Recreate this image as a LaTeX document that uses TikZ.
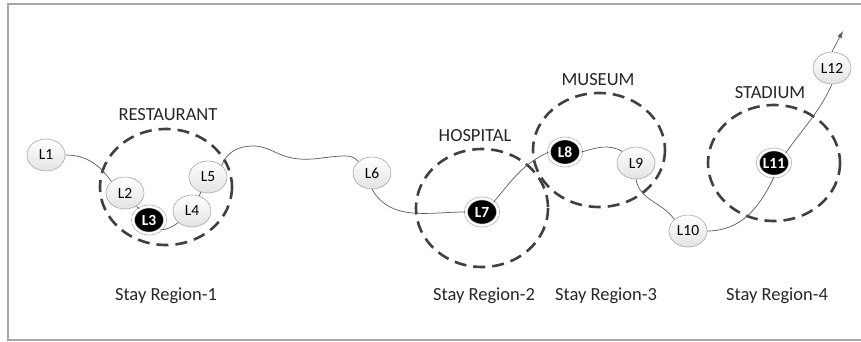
\documentclass[tikz,border=0pt]{standalone}
\usepackage{fontspec}
\setmainfont{Carlito}
\usetikzlibrary{shapes.geometric,arrows.meta}
\definecolor{framegray}{HTML}{A6A6A6}
\definecolor{edgegray}{HTML}{5A5A5A}
\definecolor{dashgray}{HTML}{404040}
\tikzset{
  loc/.style={ellipse, draw=gray!70, line width=0.6pt, top color=white,
    bottom color=gray!22, minimum width=38pt, minimum height=32pt,
    inner sep=0pt, font=\fontsize{15.5}{15.5}\selectfont},
  stay/.style={ellipse, fill=black, draw=gray!70, double=white,
    double distance=2.4pt, line width=0.6pt, minimum width=32pt,
    minimum height=27pt, inner sep=0pt, text=white,
    font=\fontsize{15.5}{15.5}\selectfont\bfseries},
  region/.style={ellipse, draw=dashgray, line width=2.6pt,
    dash pattern=on 12pt off 7pt},
  place/.style={font=\fontsize{18.5}{18.5}\selectfont, text=black!85},
  caption/.style={font=\fontsize{18.5}{18.5}\selectfont, text=black!85},
  trail/.style={draw=edgegray, line width=0.7pt},
}
\begin{document}
\begin{tikzpicture}[x=1pt,y=-1pt]
\useasboundingbox (0,0) rectangle (861,342);
% outer frame
\draw[framegray, line width=1.4pt] (870,4) -- (8,4) -- (8,340) -- (870,340);

% stay regions
\draw[region] (166,187) ellipse [x radius=66, y radius=58];
\draw[region] (482,208) ellipse [x radius=66, y radius=59];
\draw[region] (599,150) ellipse [x radius=66, y radius=57];
\draw[region] (774,163) ellipse [x radius=66, y radius=58];

% place names
\node[place] (restaurant) at (168,115) {RESTAURANT};
\node[place] (hospital) at (475,136) {HOSPITAL};
\node[place] (museum) at (598,80) {MUSEUM};
\node[place] (stadium) at (770,93) {STADIUM};

% locations
\node[loc] (L1) at (46,155) {L1};
\node[loc] (L2) at (125,193) {L2};
\node[stay] (L3) at (149,220) {L3};
\node[loc] (L4) at (192,211) {L4};
\node[loc] (L5) at (208,177) {L5};
\node[loc] (L6) at (372,173) {L6};
\node[stay] (L7) at (482,212) {L7};
\node[stay] (L8) at (565,152) {L8};
\node[loc] (L9) at (636,163) {L9};
\node[loc] (L10) at (688,231) {L10};
\node[stay] (L11) at (774,163) {L11};
\node[loc] (L12) at (832,68) {L12};

% waypoints of the trail
\coordinate (w1) at (253,146);
\coordinate (w2) at (292,158);
\coordinate (w3) at (346,156);
\coordinate (tip) at (843,31);

% trail
\draw[trail] (L1.east) to[out=0,in=125] (L2.north west);
\draw[trail] (L2) -- (L3);
\draw[trail] (L3.south east) to[out=0,in=215] (L4.south west);
\draw[trail] (L4) -- (L5);
\draw[trail] (L5.north east) to[out=70,in=180] (w1)
  to[out=0,in=170] (w2) to[out=-10,in=180] (w3) to[out=0,in=135] (L6.north west);
\draw[trail] (L6.south) to[out=-60,in=180] (L7.west);
\draw[trail] (L7.north east) to[out=50,in=205] (L8.west);
\draw[trail] (L8.east) to[out=15,in=150] (L9.north west);
\draw[trail] (L9.south) to[out=-80,in=125] (L10.north west);
\draw[trail] (L10.east) to[out=0,in=-115] (L11.south);
\draw[trail] (L11.north east) to[out=55,in=-115] (L12.south);
\draw[trail, -{Latex[length=7pt,width=5pt]}] (L12.north) -- (tip);

% captions
\node[caption] (c1) at (166,296) {Stay Region-1};
\node[caption] (c2) at (484,296) {Stay Region-2};
\node[caption] (c3) at (606,296) {Stay Region-3};
\node[caption] (c4) at (777,296) {Stay Region-4};
\end{tikzpicture}
\end{document}
